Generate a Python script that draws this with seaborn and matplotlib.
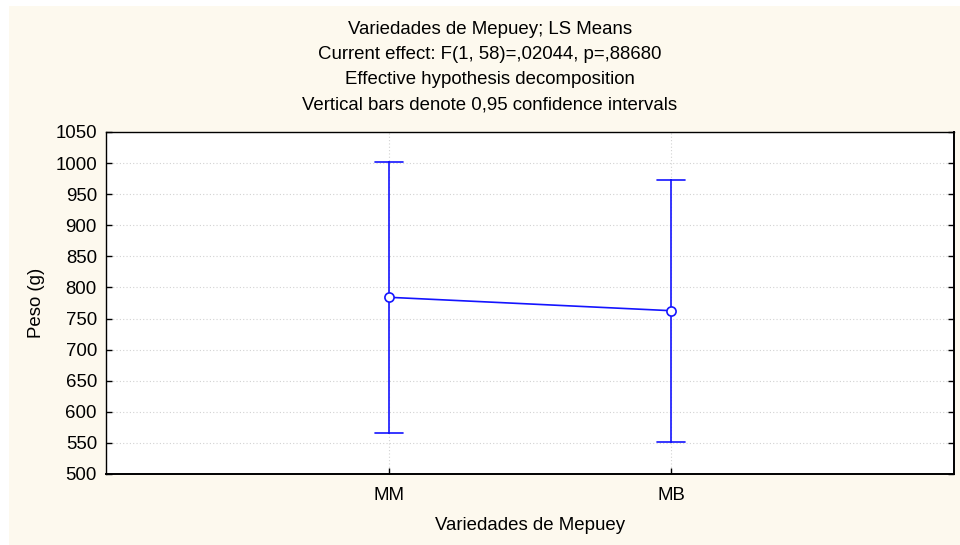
import numpy as np
import pandas as pd
import matplotlib
matplotlib.use("Agg")
import matplotlib.pyplot as plt
from matplotlib.patches import Rectangle
import seaborn as sns

# ---- data ----
categories = ["MM", "MB"]
means = [784.2, 762.6]
lower = [566.3, 551.8]
upper = [1001.9, 973.4]
yticks = [500, 550, 600, 650, 700, 750, 800, 850, 900, 950, 1000, 1050]

title_lines = [
    "Variedades de Mepuey; LS Means",
    "Current effect: F(1, 58)=,02044, p=,88680",
    "Effective hypothesis decomposition",
    "Vertical bars denote 0,95 confidence intervals",
]
xlabel = "Variedades de Mepuey"
ylabel = "Peso (g)"

# long table: lower / mean / upper per category -> median = mean, min/max = CI
rows = []
for c, lo, m, hi in zip(categories, lower, means, upper):
    for v in (lo, m, hi):
        rows.append({"cat": c, "val": v})
df = pd.DataFrame(rows)

sns.set_theme(style="white")
plt.rcParams["font.family"] = ["Liberation Sans", "DejaVu Sans"]

FS = 13.4
W, H = 960, 545
fig = plt.figure(figsize=(W / 100, H / 100), dpi=100, facecolor="white")
fig.patches.append(Rectangle((9 / W, 0), 1 - 9 / W, 1 - 6 / H,
                             transform=fig.transFigure, facecolor="#FDF9EE",
                             edgecolor="none", zorder=-10))
ax = fig.add_axes([106 / W, 1 - 474 / H, (954 - 106) / W, (474 - 132) / H])
ax.set_facecolor("white")

blue = "#1414FF"
sns.pointplot(data=df, x="cat", y="val", order=categories,
              estimator="median", errorbar=lambda v: (v.min(), v.max()),
              color=blue, capsize=0.1, markers="o", linewidth=1.2,
              markersize=6.6, markeredgewidth=1.2, markerfacecolor="white",
              err_kws={"linewidth": 1.2, "color": blue}, ax=ax)

main = ax.lines[0]
main.set_markerfacecolor("white")
main.set_zorder(6)
for ln in ax.lines[1:]:
    ln.set_zorder(4)

ax.set_xlim(-1, 2)
ax.set_ylim(500, 1050)
ax.set_yticks(yticks)
ax.set_yticklabels([str(t) for t in yticks])

ax.grid(True, color="#D2D2D2", linestyle=(0, (1, 2)), linewidth=0.8)
ax.set_axisbelow(True)

for s in ax.spines.values():
    s.set_visible(True)
    s.set_color("black")
    s.set_linewidth(1.0)
ax.spines["right"].set_linewidth(1.4)
ax.spines["bottom"].set_linewidth(1.4)

ax.tick_params(axis="y", direction="in", length=4, width=1, left=True, right=True,
               pad=6.5, labelsize=FS, color="black", labelcolor="black")
ax.tick_params(axis="x", direction="in", length=4, width=1, bottom=True, top=False,
               pad=9, labelsize=FS, color="black", labelcolor="black")

ax.set_xlabel(xlabel, fontsize=FS, color="black", labelpad=10)
ax.set_ylabel(ylabel, fontsize=FS, color="black", labelpad=7.5)

baselines = [34.3, 59.3, 84.3, 109.3]
for txt, b in zip(title_lines, baselines):
    fig.text(490 / W, 1 - b / H, txt, ha="center", va="baseline",
             fontsize=FS, color="black")

fig.savefig("out.png", dpi=100, facecolor=fig.get_facecolor())
